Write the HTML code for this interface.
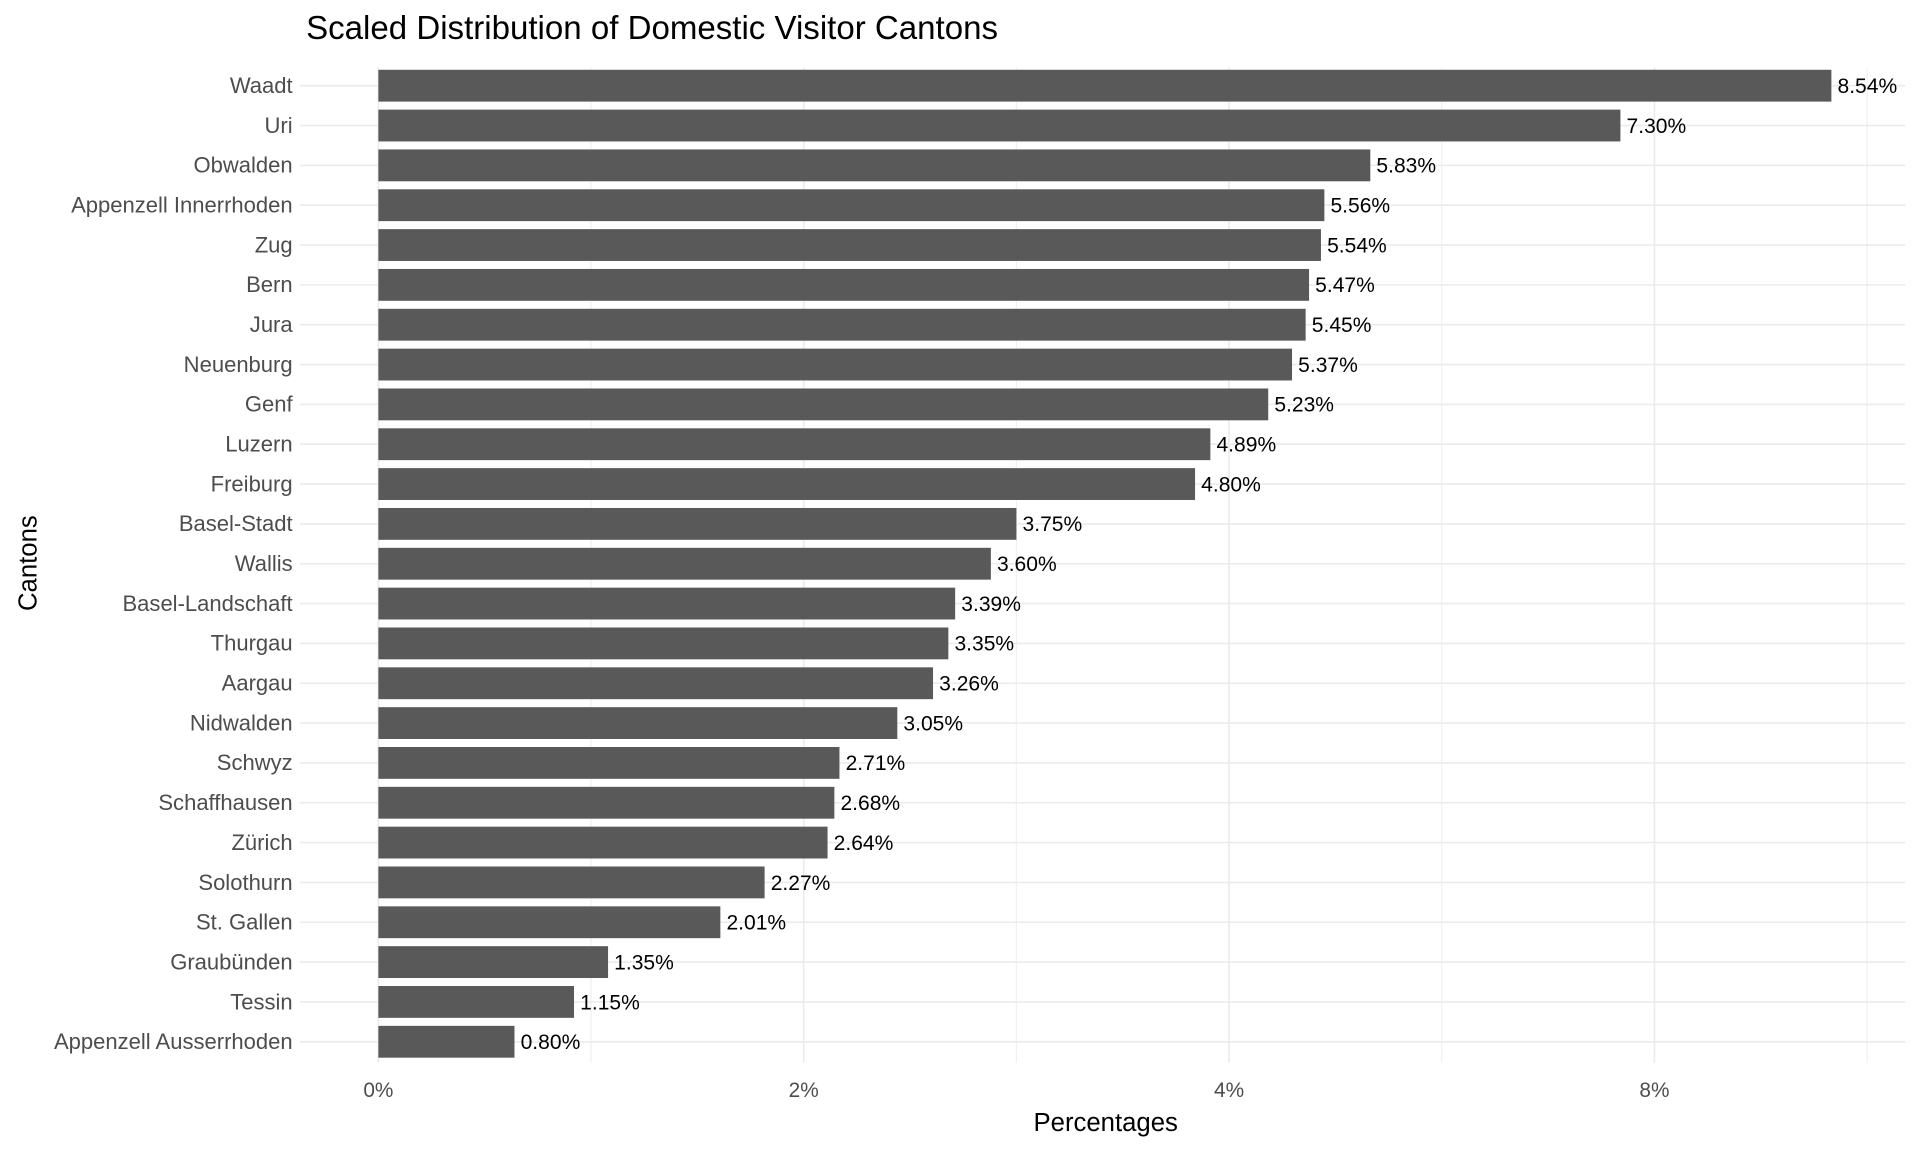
<!DOCTYPE html>
<html><head><meta charset="utf-8"><style>
html,body{margin:0;padding:0;background:#fff;}
svg{display:block;font-family:"Liberation Sans",sans-serif;}
</style></head><body>
<svg id="chart" width="1920" height="1152" viewBox="0 0 1568 941" preserveAspectRatio="none" xmlns="http://www.w3.org/2000/svg">
<rect width="1568" height="941" fill="#fff"/>
<text x="250" y="32" font-size="27" fill="#000">Scaled Distribution of Domestic Visitor Cantons</text>
<text x="903" y="924" font-size="21" text-anchor="middle" fill="#000">Percentages</text>
<text transform="translate(30,460) rotate(-90)" font-size="21" text-anchor="middle" fill="#000">Cantons</text>
<g id="grid"></g><g id="bars"></g><g id="labels"></g>
</svg>
<script>
const categories = ["Waadt","Uri","Obwalden","Appenzell Innerrhoden","Zug","Bern","Jura","Neuenburg","Genf","Luzern","Freiburg","Basel-Stadt","Wallis","Basel-Landschaft","Thurgau","Aargau","Nidwalden","Schwyz","Schaffhausen","Zürich","Solothurn","St. Gallen","Graubünden","Tessin","Appenzell Ausserrhoden"];
const values = [8.54,7.30,5.83,5.56,5.54,5.47,5.45,5.37,5.23,4.89,4.80,3.75,3.60,3.39,3.35,3.26,3.05,2.71,2.68,2.64,2.27,2.01,1.35,1.15,0.80];
const valueLabels = ["8.54%","7.30%","5.83%","5.56%","5.54%","5.47%","5.45%","5.37%","5.23%","4.89%","4.80%","3.75%","3.60%","3.39%","3.35%","3.26%","3.05%","2.71%","2.68%","2.64%","2.27%","2.01%","1.35%","1.15%","0.80%"];
const tickValues = [0,2.5,5,7.5];
const tickLabels = ["0%","2%","4%","8%"];
const minorTicks = [1.25,3.75,6.25,8.75];

const NS="http://www.w3.org/2000/svg";
const x = v => 309 + v*138.95;
const y = i => 70 + i*32.54;
const bh = 26;
function mk(tag, attrs, parent){const e=document.createElementNS(NS,tag);for(const k in attrs)e.setAttribute(k,attrs[k]);document.getElementById(parent).appendChild(e);return e;}

minorTicks.forEach(t=>{
  const l=mk('line',{x1:x(t),x2:x(t),y1:55,y2:868,stroke:'#f0f0f0','stroke-width':1},'grid');
  
  
});
tickValues.forEach((t,i)=>{
  const l=mk('line',{x1:x(t),x2:x(t),y1:55,y2:868,stroke:'#ebebeb','stroke-width':1.3},'grid');
  
  
  const tx=mk('text',{x:x(t),y:896,'font-size':17,'text-anchor':'middle',fill:'#4d4d4d'},'labels');
  tx.textContent=tickLabels[i];
  
  
});
categories.forEach((c,i)=>{
  const g=mk('line',{x1:245,x2:1556,y1:y(i),y2:y(i),stroke:'#ebebeb','stroke-width':1.3},'grid');
  
  
  const r=mk('rect',{x:x(0),y:y(i)-bh/2,width:x(values[i])-x(0),height:bh,fill:'#595959'},'bars');
  
  
  const t=mk('text',{x:239,y:y(i)+6,'font-size':18,'text-anchor':'end',fill:'#4d4d4d'},'labels');
  t.textContent=c;
  
  
  const v=mk('text',{x:x(values[i])+5,y:y(i)+6,'font-size':17.2,fill:'#000'},'labels');
  v.textContent=valueLabels[i];
  
  
});
</script>
</body></html>
